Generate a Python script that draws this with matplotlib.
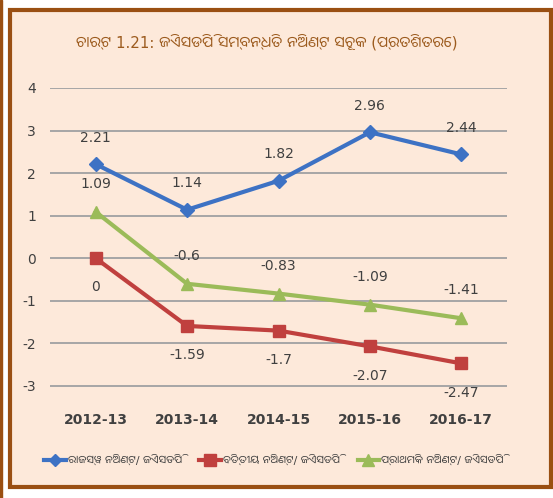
import os
import matplotlib
matplotlib.use("Agg")
import matplotlib.pyplot as plt
from matplotlib import font_manager as fm
from matplotlib.patches import Rectangle
from matplotlib.lines import Line2D

categories = ["2012-13", "2013-14", "2014-15", "2015-16", "2016-17"]
revenue = [2.21, 1.14, 1.82, 2.96, 2.44]
fiscal = [0, -1.59, -1.7, -2.07, -2.47]
primary = [1.09, -0.6, -0.83, -1.09, -1.41]
series_names = ["ରାଜସ୍ୱ ନିଅଣ୍ଟ/ ଜିଏସଡିପି", "ବିତ୍ତୀୟ ନିଅଣ୍ଟ/ ଜିଏସଡିପି", "ପ୍ରାଥମିକ ନିଅଣ୍ଟ/ ଜିଏସଡିପି"]
title = "ଚାର୍ଟ 1.21: ଜିଏସଡିପି ସମ୍ବନ୍ଧିତ ନିଅଣ୍ଟ ସୂଚକ (ପ୍ରତିଶତରେ)"
yticks = [-3, -2, -1, 0, 1, 2, 3, 4]

odia = "Noto Sans Oriya UI"
for p in ["/usr/share/fonts/truetype/google-fonts/NotoSansOriyaUI-Regular.ttf",
          "/usr/share/fonts/truetype/google-fonts/NotoSansOriya[wdth,wght].ttf"]:
    if os.path.exists(p):
        fm.fontManager.addfont(p)
        odia = fm.FontProperties(fname=p).get_name()
        break
fam = ["DejaVu Sans", odia]

W, H = 553, 498
fig = plt.figure(figsize=(W/100, H/100), dpi=100)
fig.patch.set_facecolor("white")

def fx(px): return px / W
def fy(py): return 1 - py / H

brown = "#9A4F12"
fig.patches.append(Rectangle((0, 0), fx(2), 1, transform=fig.transFigure, color=brown, zorder=-2))
fig.patches.append(Rectangle((fx(9.5), fy(487)), fx(551 - 9.5), fy(9.5) - fy(487),
                             transform=fig.transFigure, facecolor="#FDE9DA", edgecolor=brown,
                             linewidth=3, zorder=-2))

ax = fig.add_axes([fx(50), fy(400), fx(507 - 50), fy(88) - fy(400)])
ax.set_facecolor("none")
x = list(range(len(categories)))

ax.set_xlim(-0.5, len(categories) - 0.5)
ax.set_ylim(-3.33, 4.0)
ax.set_yticks(yticks)
ax.set_yticklabels([str(v) for v in yticks])
ax.grid(axis="y", color="#A6A6A6", linewidth=1.4)
ax.set_axisbelow(True)
for s in ax.spines.values():
    s.set_visible(False)
ax.tick_params(axis="both", length=0)
ax.tick_params(axis="y", pad=10, labelsize=10, labelcolor="#404040")
ax.set_xticks(x)
ax.set_xticklabels(categories, fontsize=10, color="#404040", fontweight="bold")
ax.tick_params(axis="x", pad=9)

blue, red, green = "#3D72C4", "#C0403E", "#9BBB59"
ax.plot(x, revenue, color=blue, lw=3, marker="D", ms=7, zorder=3)
ax.plot(x, fiscal, color=red, lw=3, marker="s", ms=9, zorder=3)
ax.plot(x, primary, color=green, lw=3, marker="^", ms=9, zorder=3)

lblc = "#404040"
for xi, v in zip(x, revenue):
    ax.annotate(f"{v:g}", (xi, v), xytext=(0, 19), textcoords="offset points",
                ha="center", va="center", fontsize=10, color=lblc)
for xi, v in zip(x, fiscal):
    ax.annotate(f"{v:g}", (xi, v), xytext=(0, -21), textcoords="offset points",
                ha="center", va="center", fontsize=10, color=lblc)
for xi, v in zip(x, primary):
    ax.annotate(f"{v:g}", (xi, v), xytext=(0, 20), textcoords="offset points",
                ha="center", va="center", fontsize=10, color=lblc)

fig.text(fx(267), fy(42), title, ha="center", va="center", fontsize=10.8, color="#9C5B1E", family=fam)

handles = [Line2D([], [], color=blue, lw=3, marker="D", ms=6),
           Line2D([], [], color=red, lw=3, marker="s", ms=8),
           Line2D([], [], color=green, lw=3, marker="^", ms=8)]
leg = fig.legend(handles, series_names, loc="center", bbox_to_anchor=(fx(274), fy(460)),
                 ncol=3, frameon=False, handlelength=2.0, handletextpad=0.2,
                 columnspacing=1.6, prop={"family": fam, "size": 7.8})
for t in leg.get_texts():
    t.set_color("#404040")

fig.savefig("out.png", dpi=100)
